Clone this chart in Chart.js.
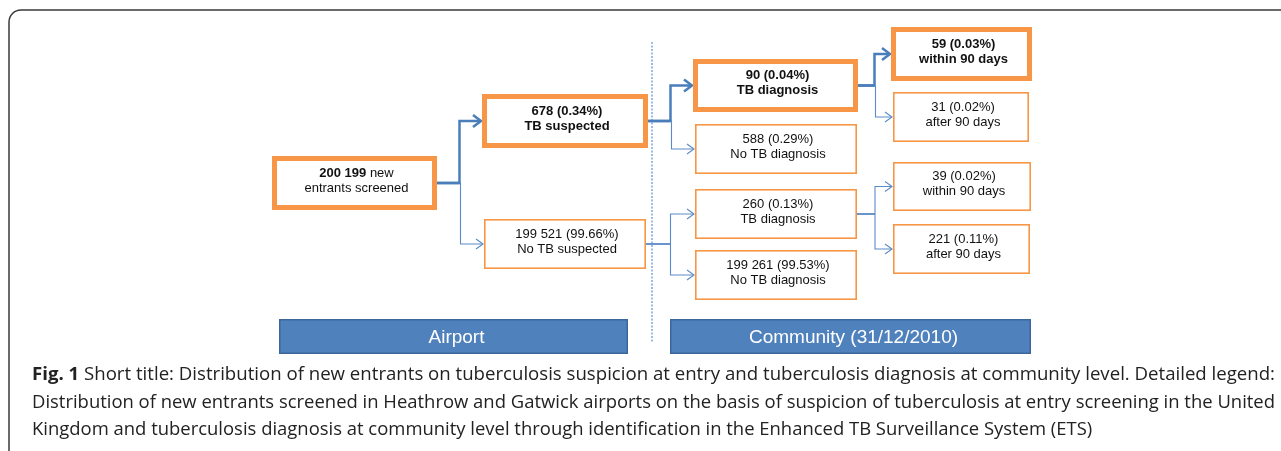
<!DOCTYPE html>
<html>
<head>
<meta charset="utf-8">
<script src="https://cdn.jsdelivr.net/npm/chart.js@4.4.0/dist/chart.umd.min.js"></script>
<style>
  html, body { margin: 0; padding: 0; background: #fff; }
  #wrap { width: 1281px; height: 451px; position: relative; }
</style>
</head>
<body>
<div id="wrap"><canvas id="flow"></canvas></div>
<script>
// --- DATA ---
const nodeCounts = [200199, 678, 199521, 90, 588, 260, 199261, 59, 31, 39, 221];
const nodePercents = [null, 0.34, 99.66, 0.04, 0.29, 0.13, 99.53, 0.03, 0.02, 0.02, 0.11];
const nodeLabels = ['new entrants screened', 'TB suspected', 'No TB suspected',
    'TB diagnosis', 'No TB diagnosis', 'TB diagnosis', 'No TB diagnosis',
    'within 90 days', 'after 90 days', 'within 90 days', 'after 90 days'];
const nodeParents = [-1, 0, 0, 1, 1, 2, 2, 3, 3, 5, 5];
const nodeHighlighted = [true, true, false, true, false, false, false, true, false, false, false];
const phaseLabels = ['Airport', 'Community (31/12/2010)'];
const captionLines = [
    'Short title: Distribution of new entrants on tuberculosis suspicion at entry and tuberculosis diagnosis at community level. Detailed legend:',
    'Distribution of new entrants screened in Heathrow and Gatwick airports on the basis of suspicion of tuberculosis at entry screening in the United',
    'Kingdom and tuberculosis diagnosis at community level through identification in the Enhanced TB Surveillance System (ETS)'
];

// --- LAYOUT (chart units = pixels of the figure) ---
const layout = {
    boxLeft:   [272, 482, 484, 693, 695, 695, 695, 891, 893, 893, 893],
    boxRight:  [437, 648, 646, 858, 857, 857, 857, 1032, 1029, 1031, 1030],
    boxTop:    [156, 94, 219, 59, 124, 189, 250, 27, 92, 162, 224],
    boxBottom: [210, 148, 269, 112, 174, 239, 300, 81, 142, 211, 274],
    phaseLeft: [279, 670], phaseRight: [628, 1031], phaseTop: 319, phaseBottom: 354,
    dividerX: 652, dividerTop: 42, dividerBottom: 343
};

const ORANGE = '#f79646';
const BLUE = '#4a7ebb';
const BLUE_THIN = '#5b8bc8';

function fmtCount(n) {
    return String(n).replace(/\B(?=(\d{3})+(?!\d))/g, ' ');
}

// --- FLOW PLUGIN ---
const flowPlugin = {
    id: 'flow',
    afterDatasetsDraw(chart) {
        const ctx = chart.ctx;
        const sx = chart.scales.x, sy = chart.scales.y;
        const px = v => sx.getPixelForValue(v);
        const py = v => sy.getPixelForValue(v);

        ctx.save();

        // outer frame
        ctx.strokeStyle = '#3a3a3a';
        ctx.lineWidth = 1.5;
        ctx.beginPath();
        ctx.moveTo(9, 470);
        ctx.lineTo(9, 22);
        ctx.arcTo(9, 10, 21, 10, 12);
        ctx.lineTo(1300, 10);
        ctx.stroke();

        // divider between airport and community
        ctx.strokeStyle = '#9dbde6';
        ctx.lineWidth = 2;
        ctx.setLineDash([2, 1.5]);
        ctx.beginPath();
        ctx.moveTo(px(layout.dividerX), py(layout.dividerTop));
        ctx.lineTo(px(layout.dividerX), py(layout.dividerBottom));
        ctx.stroke();
        ctx.setLineDash([]);

        // connectors
        nodeCounts.forEach((_, i) => {
            const p = nodeParents[i];
            if (p < 0) return;
            const pr = layout.boxRight[p];
            const pcy = (layout.boxTop[p] + layout.boxBottom[p]) / 2;
            const cl = layout.boxLeft[i];
            const ccy = (layout.boxTop[i] + layout.boxBottom[i]) / 2;
            const elbow = (pr + cl) / 2;
            const thick = nodeHighlighted[i];
            const parentThick = nodeHighlighted[p];

            // stub from parent
            ctx.strokeStyle = parentThick ? BLUE : BLUE_THIN;
            ctx.lineWidth = parentThick ? 2.5 : 1.4;
            ctx.beginPath();
            ctx.moveTo(px(pr), py(pcy));
            ctx.lineTo(px(elbow), py(pcy));
            ctx.stroke();

            // branch to child
            ctx.strokeStyle = thick ? BLUE : BLUE_THIN;
            ctx.lineWidth = thick ? 2.5 : 1.1;
            const tip = px(cl) - 1;
            ctx.beginPath();
            ctx.moveTo(px(elbow), py(pcy));
            ctx.lineTo(px(elbow), py(ccy));
            ctx.lineTo(tip - (thick ? 1 : 0), py(ccy));
            ctx.stroke();

            // open arrow head
            const al = thick ? 8 : 7, ah = thick ? 6 : 5;
            ctx.beginPath();
            ctx.moveTo(tip - al, py(ccy) - ah);
            ctx.lineTo(tip, py(ccy));
            ctx.lineTo(tip - al, py(ccy) + ah);
            ctx.stroke();
        });

        // boxes
        ctx.textAlign = 'center';
        ctx.textBaseline = 'middle';
        nodeCounts.forEach((count, i) => {
            const l = px(layout.boxLeft[i]), r = px(layout.boxRight[i]);
            const t = py(layout.boxTop[i]), b = py(layout.boxBottom[i]);
            const hl = nodeHighlighted[i];
            const lw = hl ? 5 : 1.6;
            ctx.fillStyle = '#fff';
            ctx.fillRect(l, t, r - l, b - t);
            ctx.strokeStyle = ORANGE;
            ctx.lineWidth = lw;
            ctx.strokeRect(l + lw / 2, t + lw / 2, r - l - lw, b - t - lw);

            const cx = (l + r) / 2 + 2;
            const cy = (t + b) / 2;
            ctx.fillStyle = '#111';
            if (nodePercents[i] === null) {
                // root node: bold count followed by regular text
                const boldPart = fmtCount(count);
                const words = nodeLabels[i].split(' ');
                const restPart = ' ' + words[0];
                const line2 = words.slice(1).join(' ');
                ctx.font = 'bold 13px "Liberation Sans", Arial, sans-serif';
                const wb = ctx.measureText(boldPart).width;
                ctx.font = '13px "Liberation Sans", Arial, sans-serif';
                const wr = ctx.measureText(restPart).width;
                const x0 = cx - (wb + wr) / 2;
                ctx.textAlign = 'left';
                ctx.font = 'bold 13px "Liberation Sans", Arial, sans-serif';
                ctx.fillText(boldPart, x0, cy - 10);
                ctx.font = '13px "Liberation Sans", Arial, sans-serif';
                ctx.fillText(restPart, x0 + wb, cy - 10);
                ctx.textAlign = 'center';
                ctx.fillText(line2, cx, cy + 5);
            } else {
                ctx.font = (hl ? 'bold ' : '') + '13px "Liberation Sans", Arial, sans-serif';
                ctx.fillText(fmtCount(count) + ' (' + nodePercents[i].toFixed(2) + '%)', cx, cy - 10);
                ctx.fillText(nodeLabels[i], cx, cy + 5);
            }
        });

        // phase bars
        phaseLabels.forEach((label, i) => {
            const l = px(layout.phaseLeft[i]), r = px(layout.phaseRight[i]);
            const t = py(layout.phaseTop), b = py(layout.phaseBottom);
            ctx.fillStyle = '#4f81bd';
            ctx.fillRect(l, t, r - l, b - t);
            ctx.strokeStyle = '#3c679b';
            ctx.lineWidth = 1.5;
            ctx.strokeRect(l + 0.75, t + 0.75, r - l - 1.5, b - t - 1.5);
            ctx.fillStyle = '#fff';
            ctx.font = '19px "Liberation Sans", Arial, sans-serif';
            ctx.textAlign = 'center';
            ctx.fillText(label, (l + r) / 2 + 3, (t + b) / 2 + 1);
        });

        // caption
        const capLeft = 32, capRight = 1275;
        const capFont = '18.5px "Open Sans", sans-serif';
        const capBold = 'bold 18.5px "Open Sans", sans-serif';
        const baselines = [380, 408, 435];
        ctx.textAlign = 'left';
        ctx.textBaseline = 'alphabetic';
        ctx.fillStyle = '#222';
        ctx.font = capFont;
        const refScale = (capRight - capLeft) / ctx.measureText(captionLines[1]).width;
        captionLines.forEach((line, i) => {
            let prefix = '', wp = 0;
            if (i === 0) {
                prefix = 'Fig. 1 ';
                ctx.font = capBold;
                wp = ctx.measureText(prefix).width;
            }
            ctx.font = capFont;
            const wl = ctx.measureText(line).width;
            const scale = i < 2 ? (capRight - capLeft) / (wp + wl) : refScale;
            ctx.save();
            ctx.translate(capLeft, baselines[i]);
            ctx.scale(scale, 1);
            if (prefix) {
                ctx.font = capBold;
                ctx.fillText(prefix, 0, 0);
            }
            ctx.font = capFont;
            ctx.fillText(line, wp, 0);
            ctx.restore();
        });

        ctx.restore();
    }
};

// --- CHART ---
const centers = nodeCounts.map((_, i) => ({
    x: (layout.boxLeft[i] + layout.boxRight[i]) / 2,
    y: (layout.boxTop[i] + layout.boxBottom[i]) / 2
}));

new Chart(document.getElementById('flow').getContext('2d'), {
    type: 'scatter',
    data: { datasets: [{ data: centers, pointRadius: 0, pointHoverRadius: 0 }] },
    options: {
        responsive: true,
        maintainAspectRatio: false,
        animation: false,
        layout: { padding: 0 },
        scales: {
            x: { type: 'linear', min: 0, max: 1281, display: false },
            y: { type: 'linear', min: 0, max: 451, reverse: true, display: false }
        },
        plugins: { legend: { display: false }, tooltip: { enabled: false } }
    },
    plugins: [flowPlugin]
});
</script>
</body>
</html>
